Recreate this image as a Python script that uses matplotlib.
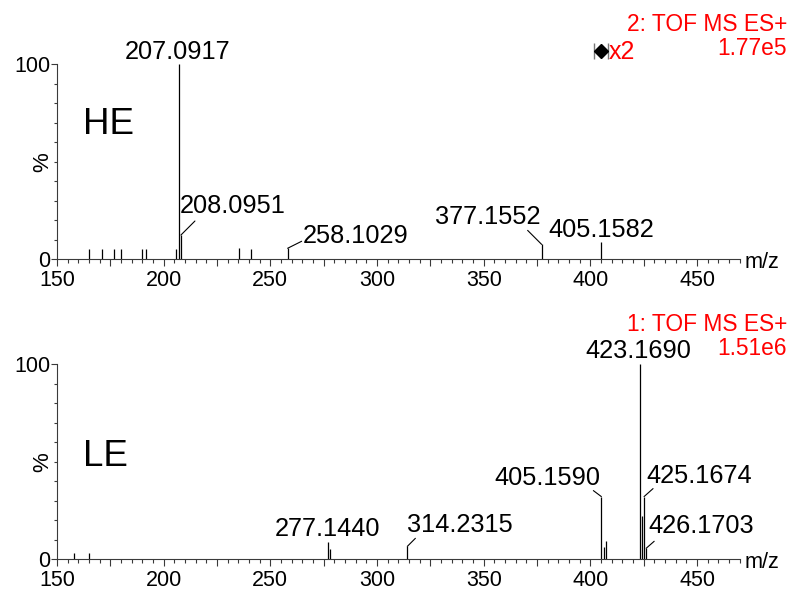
#!/usr/bin/env python3
"""
Stacked centroid spectra (HE / LE channels) of a TOF MS ES+ run.

Output:
  out.png
"""

import matplotlib
matplotlib.use("Agg")
import matplotlib.pyplot as plt
import matplotlib.transforms as mtransforms
from matplotlib.ticker import MultipleLocator, FuncFormatter

plt.rcParams["font.family"] = ["Liberation Sans", "DejaVu Sans"]

# High-energy channel (function 2)
he_mz = [165.1, 171.0, 176.9, 180.0, 189.9, 191.9, 205.9, 207.0917, 208.0951,
         235.1, 240.9, 258.1029, 377.1552, 405.1582]
he_int = [5.0, 5.0, 5.0, 5.0, 5.0, 5.0, 5.0, 100.0, 12.3,
          5.5, 5.0, 5.5, 7.5, 8.9]
he_labeled = [207.0917, 208.0951, 258.1029, 377.1552, 405.1582]
he_scan = "2: TOF MS ES+"
he_tic = "1.77e5"

# Low-energy channel (function 1)
le_mz = [158.0, 165.0, 277.1440, 278.14, 314.2315, 405.1590, 406.16, 407.16,
         423.1690, 424.17, 425.1674, 426.1703]
le_int = [3.0, 3.2, 8.5, 5.0, 6.5, 32.0, 6.3, 9.2,
          100.0, 22.0, 32.0, 5.5]
le_labeled = [277.1440, 314.2315, 405.1590, 423.1690, 425.1674, 426.1703]
le_scan = "1: TOF MS ES+"
le_tic = "1.51e6"

# magnified window in the HE trace
mag_lo, mag_mid, mag_hi = 401.5, 405.0, 408.4
mag_factor = 2

# label placement, pixels relative to peak top: text (dx, dy, ha), leader end
HE_LABEL_POS = {
    207.0917: ((-1, 5, "center"), None),
    208.0951: ((-1, 22, "left"), (14, 14)),
    258.1029: ((15, 5, "left"), (14, 7)),
    377.1552: ((-1, 20, "right"), (-14, 14)),
    405.1582: ((0, 5, "center"), None),
}
LE_LABEL_POS = {
    277.1440: ((-1, 6, "center"), None),
    314.2315: ((0, 14, "left"), (8, 8)),
    405.1590: ((-1, 12, "right"), (-8, 6)),
    423.1690: ((-1, 6, "center"), None),
    425.1674: ((2, 14, "left"), (9, 8)),
    426.1703: ((2, 15, "left"), (8, 7)),
}

AXIS_COLOR = "#3a3a3a"
W, H = 796, 591


def setup_axis(ax):
    ax.set_xlim(150, 470)
    ax.set_ylim(0, 100)
    for side in ("top", "right"):
        ax.spines[side].set_visible(False)
    for side in ("left", "bottom"):
        ax.spines[side].set_color(AXIS_COLOR)
        ax.spines[side].set_linewidth(0.8)

    ax.xaxis.set_major_locator(MultipleLocator(25))
    ax.xaxis.set_minor_locator(MultipleLocator(5))
    ax.xaxis.set_major_formatter(
        FuncFormatter(lambda v, _: f"{v:.0f}" if v % 50 == 0 else ""))
    ax.set_yticks([0, 100])
    ax.yaxis.set_minor_locator(MultipleLocator(10))

    ax.tick_params(axis="x", which="major", direction="out", length=5,
                   width=0.8, color=AXIS_COLOR, pad=3, labelsize=15.5)
    ax.tick_params(axis="x", which="minor", direction="out", length=2.8,
                   width=0.8, color=AXIS_COLOR)
    ax.tick_params(axis="y", which="major", direction="out", length=4,
                   width=0.8, color=AXIS_COLOR, pad=1, labelsize=15.5)
    ax.tick_params(axis="y", which="minor", direction="out", length=2.5,
                   width=0.8, color=AXIS_COLOR)


def draw_spectrum(ax, mz, inten, labeled, label_pos):
    ax.vlines(mz, 0, inten, colors="black", linewidth=0.9, clip_on=False)
    heights = dict(zip(mz, inten))
    for peak in labeled:
        (dx, dy, ha), leader = label_pos[peak]
        h = heights[peak]
        if leader is not None:
            ax.annotate("", xy=(peak, h), xytext=leader,
                        textcoords="offset pixels", annotation_clip=False,
                        arrowprops=dict(arrowstyle="-", lw=0.8, color="black",
                                        shrinkA=0, shrinkB=0))
        ax.annotate(f"{peak:.4f}", xy=(peak, h), xytext=(dx, dy),
                    textcoords="offset pixels", ha=ha, va="baseline",
                    fontsize=18.3, annotation_clip=False)


fig = plt.figure(figsize=(W / 100, H / 100), dpi=100)

left = 57 / W
width = 682.7 / W
height = 195 / H
ax_he = fig.add_axes([left, (H - 259) / H, width, height])
ax_le = fig.add_axes([left, (H - 559) / H, width, height])

for ax in (ax_he, ax_le):
    setup_axis(ax)

draw_spectrum(ax_he, he_mz, he_int, he_labeled, HE_LABEL_POS)
draw_spectrum(ax_le, le_mz, le_int, le_labeled, LE_LABEL_POS)

# panel captions, % axis title, m/z unit
for name, base, pct_y, mz_y in (("HE", 134, 162, 268), ("LE", 466, 462, 568)):
    fig.text(83 / W, 1 - base / H, name, fontsize=26.5, va="baseline")
    fig.text(43 / W, 1 - pct_y / H, "%", fontsize=16, rotation=90,
             ha="center", va="center")
    fig.text(745 / W, 1 - mz_y / H, "m/z", fontsize=15.6, va="baseline")

# scan header in red, top right of each panel
for scan, tic, y1, y2 in ((he_scan, he_tic, 31, 55), (le_scan, le_tic, 331, 355)):
    fig.text(787 / W, 1 - y1 / H, scan, color="red", fontsize=16.4,
             ha="right", va="baseline")
    fig.text(787 / W, 1 - y2 / H, tic, color="red", fontsize=16.4,
             ha="right", va="baseline")

# magnification marker above the HE trace
trans = mtransforms.blended_transform_factory(ax_he.transData, ax_he.transAxes)
ax_he.vlines([mag_lo, mag_hi], 1.028, 1.108, transform=trans,
             colors="#777777", linewidth=1.0, clip_on=False)
ax_he.plot([mag_mid], [1.068], marker="D", markersize=7.5, color="black",
           transform=trans, clip_on=False)
ax_he.text(mag_hi + 0.2, 1.027, f"x{mag_factor}", color="red", fontsize=18,
           transform=trans, va="baseline", ha="left")

fig.savefig("out.png", dpi=100)
plt.close(fig)
